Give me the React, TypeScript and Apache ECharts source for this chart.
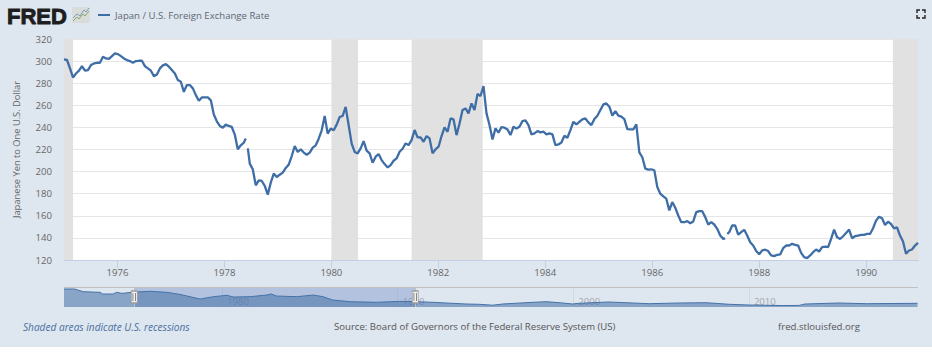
import React, { useEffect, useRef } from "react";
import * as echarts from "echarts";

const SERIES_NAME = "Japan / U.S. Foreign Exchange Rate";
const AXIS_TITLE = "Japanese Yen to One U.S. Dollar";
const TICK_YEARS = [1976, 1978, 1980, 1982, 1984, 1986, 1988, 1990];
const NAV_TICK_YEARS = [1980, 1990, 2000, 2010];
const RANGE_START = 1975;
const RANGE_END = 1990.97;
const NAV_RANGE_END = 1991;

// Readings of the line, left to right, about every three weeks (null = gap in the source line)
const rates: (number | null)[] = [
  301.5, 301, 293.4, 285.2, 288.8, 291.3, 295.5, 291.3, 291.9, 296.4, 297.9, 298.5, 298.5, 303.9, 302.4, 302.1,
  304.5, 306.9, 306.3, 304.5, 302.4, 300.9, 300, 298.5, 300, 300.3, 300.3, 295.5, 293.4, 291.3, 286.4, 287.9,
  293.4, 296.1, 297.3, 294.9, 291.9, 288.8, 282.8, 281.3, 272.2, 278.3, 278.3, 275.3, 269.2, 264.1, 267.1, 267.1, 267.1,
  264.5, 251.6, 245.5, 241.3, 239.8, 242.5, 241.3, 240.4, 233.5, 220.2, 223.8, 226.2, null, 207.2, 202.1, 187.6,
  192.1, 191.5, 187, 179.1, 190, 198.2, 195.1, 197.2, 199.1, 203.3, 206.3, 214.1, 223.2, 217.8, 220.2, 217.2, 215.3,
  217.2, 221.7, 223.8, 229.8, 237.4, 250.4, 234.4, 238.9, 237.4, 242.5, 249.4, 250.4, 258.5, 241.9, 225.3, 217.8,
  216.5, 221, 227.6, 218.9, 216.5, 208, 213.5, 215.9, 210.4, 206.8, 203.8, 205.9, 209.8, 211.9, 218, 220.7, 225.5,
  224, 228.5, 237.6, 231, 231, 227, 232.2, 230, 216.5, 220.2, 222.5, 232.2, 240, 236, 248.1, 247.2, 233, 243.6, 255.7,
  257.2, 252.7, 261.7, 255.7, 270.2, 268.4, 277.4, 252.7, 242.1, 229.1, 239.1, 235.2,
  240.3, 239.7, 238.2, 233.1, 240.6, 239.1, 240.6, 245.7, 246.3, 242.1, 233.7, 234.6, 236.7, 235.5, 236.1, 233.7,
  234.6, 233.7, 224, 224.6, 226.4, 232.5, 230.6, 237.6, 245.1, 242.7, 245.1, 247.2, 248.1, 244.5, 242.1, 247.5,
  250.6, 255.7, 260.8, 261.7, 258.7, 250.6, 254.8, 250.6, 249.7, 247.5, 238.5, 238.2, 238.2, 242.7, 217.4, 213,
  202.7, 201.8, 202.1, 201.2, 186.1, 180, 177.6, 175.5, 164.9, 172.4, 167.3, 160.3, 154.2, 154.2, 155.2, 153.3,
  154.9, 163.3, 164.2, 164.2, 158.8, 152.1, 154.2, 152.1, 148.2, 142.1, 139.1, null, 145.2, 151.2, 151.2, 143,
  145.2, 147.3, 142.1, 136.1, 133.1,
  128.1, 125.2, 128.7, 129.3, 128.1,
  124.1, 123.5, 124.7, 125, 130.7, 133.1, 133.1, 134.6, 133.7, 133.1, 126.5, 122.6, 121.7, 124.1, 127.1, 129.5,
  127.7, 131.6, 132.2, 131.6, 139.1, 147.5, 140.6, 139.1, 141.5, 144.5, 147.5, 139.7, 141.5, 142.1, 142.7, 142.7,
  143.6, 143.6, 148.7, 155.6, 159.2, 157.7, 151.7, 154.7, 152.6, 148.7, 149.6, 142.1, 136.7, 125.6, 128.6, 129.5,
  133.1, 135.5,
];
const rateYears = rates.map((_, i) => RANGE_START + (i * (RANGE_END - RANGE_START)) / (rates.length - 1));
// Values on either side of each gap in the line, in order of the nulls above
const gapBefore = [230, 139.5];
const gapAfter = [221, 143.5];

const recessions: [number, number][] = [
  [1975, 1975.17],
  [1980, 1980.5],
  [1981.5, 1982.83],
  [1990.5, 1990.97],
];

// Overview strip: the whole history of the series
const navYears = [
  1971, 1971.6, 1972.1, 1973.05, 1973.2, 1973.8, 1974, 1974.3, 1974.85, 1975.1, 1975.9, 1976.85, 1977.6, 1978.75,
  1979.5, 1980.27, 1980.65, 1981.6, 1982.55, 1982.8, 1983.1, 1984.25, 1985.2, 1985.75, 1986.3, 1987.3, 1988.8,
  1990.1, 1991.05, 1992, 1993.9, 1994.65, 1995.4, 1996, 1997.3, 1998.45, 1999.2, 1999.97, 2000.3, 2002, 2003,
  2004.3, 2006, 2007.55, 2008.9, 2010, 2011.9, 2012.85, 2013.2, 2015.1, 2016.7, 2019.6,
];
const navRates = [
  343, 343, 300, 290, 263, 263, 290, 273, 290, 295, 306, 290, 257, 183, 220, 242, 215, 220, 247, 263, 231, 220, 247,
  220, 167, 140, 130, 145, 140, 130, 103, 98, 84, 103, 124, 140, 124, 103, 114, 135, 124, 108, 119, 124, 98, 87, 78,
  80, 103, 119, 108, 114,
];

const FONT = "'Open Sans', sans-serif";
const LINE = "#3f6ea6";
const PAGE = "#dee6f0";
const AXIS_LINE = "#c0d0e0";

function linePoints() {
  const out: [number, number | null][] = [];
  let gap = 0;
  rates.forEach((v, i) => {
    if (v === null) {
      out.push([rateYears[i] - 0.02, gapBefore[gap]]);
      out.push([rateYears[i], null]);
      out.push([rateYears[i] + 0.02, gapAfter[gap]]);
      gap += 1;
    } else {
      out.push([rateYears[i], v]);
    }
  });
  return out;
}

export default function App() {
  const ref = useRef<HTMLDivElement>(null);
  useEffect(() => {
    const chart = echarts.init(ref.current!, null, { renderer: "svg" });
    const navMax = 375;
    const navMid = 215;
    const handle = (x: number) => [
      {
        coord: [x, navMid],
        symbol: "rect",
        symbolSize: [6, 12],
        itemStyle: { color: "#f2f2f2", borderColor: "#9a9a9a", borderWidth: 1 },
        label: { show: false },
      },
      {
        coord: [x, navMid],
        symbol: "path://M0 0H1V10H0Z M3 0H4V10H3Z",
        symbolSize: [3.5, 8],
        itemStyle: { color: "#777" },
        label: { show: false },
      },
    ];
    chart.setOption({
      animation: false,
      backgroundColor: PAGE,
      textStyle: { fontFamily: FONT },
      legend: {
        data: [SERIES_NAME],
        left: 92,
        top: 5,
        itemWidth: 12,
        itemHeight: 2,
        itemGap: 3,
        selectedMode: false,
        textStyle: { color: "#5f6670", fontSize: 9.6, fontFamily: FONT },
      },
      grid: [
        { left: 64, right: 14, top: 39, height: 221, show: true, backgroundColor: "#fff", borderWidth: 0 },
        { left: 64, right: 14, top: 287, height: 20, show: false },
      ],
      xAxis: [
        {
          type: "value",
          gridIndex: 0,
          min: RANGE_START,
          max: RANGE_END,
          splitLine: { show: false },
          axisLine: { show: true, onZero: false, lineStyle: { color: AXIS_LINE } },
          axisTick: { show: true, length: 8, lineStyle: { color: AXIS_LINE }, customValues: TICK_YEARS },
          axisLabel: {
            color: "#666",
            fontSize: 9.6,
            fontFamily: FONT,
            margin: 7,
            customValues: TICK_YEARS,
            formatter: (v: number) => String(v),
          },
        },
        {
          type: "value",
          gridIndex: 1,
          min: 1971,
          max: 2019.63,
          splitLine: { show: false },
          axisLine: { show: false, onZero: false },
          axisTick: { show: true, inside: true, length: 20, lineStyle: { color: "#d3d9e0" }, customValues: NAV_TICK_YEARS },
          axisLabel: {
            show: true,
            inside: true,
            color: "#a3a8ae",
            fontSize: 9.6,
            fontFamily: FONT,
            margin: 1,
            align: "left",
            padding: [0, 0, 0, 5],
            customValues: NAV_TICK_YEARS,
            formatter: (v: number) => String(v),
          },
        },
      ],
      yAxis: [
        {
          type: "value",
          gridIndex: 0,
          min: 120,
          max: 320,
          interval: 20,
          name: AXIS_TITLE,
          nameLocation: "middle",
          nameRotate: 90,
          nameGap: 43,
          nameTextStyle: { color: "#666", fontSize: 9.3, fontFamily: FONT },
          axisLine: { show: false },
          axisTick: { show: false },
          axisLabel: { color: "#666", fontSize: 9.6, fontFamily: FONT, margin: 12 },
          splitLine: { show: true, lineStyle: { color: "#e6e6e6", width: 1 } },
        },
        {
          type: "value",
          gridIndex: 1,
          min: 55,
          max: navMax,
          show: false,
          splitLine: { show: false },
        },
      ],
      series: [
        {
          name: SERIES_NAME,
          type: "line",
          xAxisIndex: 0,
          yAxisIndex: 0,
          data: linePoints(),
          symbol: "none",
          connectNulls: false,
          silent: true,
          lineStyle: { color: LINE, width: 2.3 },
          itemStyle: { color: LINE },
          z: 3,
          markArea: {
            silent: true,
            itemStyle: { color: "#e1e1e1" },
            data: recessions.map(([a, b]) => [{ xAxis: a }, { xAxis: b }]),
          },
        },
        {
          name: "Overview",
          type: "line",
          xAxisIndex: 1,
          yAxisIndex: 1,
          data: navYears.map((y, i) => [y, navRates[i]]),
          symbol: "none",
          silent: true,
          lineStyle: { color: "#4572a7", width: 1 },
          areaStyle: { color: "#4572a7", opacity: 0.56, origin: "start" },
          markArea: {
            silent: true,
            itemStyle: { color: "rgba(102,133,194,0.36)" },
            data: [[{ xAxis: RANGE_START }, { xAxis: NAV_RANGE_END }]],
          },
          markLine: {
            silent: true,
            symbol: "none",
            label: { show: false },
            lineStyle: { color: "#c0c0c0", width: 1, type: "solid" },
            data: [{ yAxis: navMax }, { xAxis: RANGE_START }, { xAxis: NAV_RANGE_END }],
          },
          markPoint: {
            silent: true,
            data: [...handle(RANGE_START), ...handle(NAV_RANGE_END)],
          },
        },
      ],
      graphic: [
        {
          type: "text",
          x: 7,
          y: 5,
          style: {
            text: "FRED",
            fill: "#1e1e1e",
            stroke: "#1e1e1e",
            lineWidth: 0.9,
            font: "bold 22px 'Liberation Sans', sans-serif",
          },
        },
        {
          type: "rect",
          shape: { x: 72, y: 7, width: 18, height: 16, r: 2 },
          style: { fill: "#d9dcd9" },
        },
        {
          type: "polyline",
          shape: { points: [[73, 21], [77, 17], [79, 19], [83, 14], [85, 16], [89, 11]] },
          style: { stroke: "#8aa86a", lineWidth: 1, fill: "none" },
        },
        {
          type: "polyline",
          shape: { points: [[73, 18], [77, 14], [80, 16], [84, 10], [86, 12], [89, 8]] },
          style: { stroke: "#7f9cbd", lineWidth: 1, fill: "none" },
        },
        ...[
          [[917, 13], [917, 10], [920, 10]],
          [[922, 10], [925, 10], [925, 13]],
          [[925, 15], [925, 18], [922, 18]],
          [[920, 18], [917, 18], [917, 15]],
        ].map((points) => ({
          type: "polyline",
          shape: { points },
          style: { stroke: "#222", lineWidth: 1.4, fill: "none" },
        })),
        {
          type: "text",
          x: 23,
          y: 326.5,
          style: {
            text: "Shaded areas indicate U.S. recessions",
            fill: "#4a6f9e",
            font: `italic 10.1px ${FONT}`,
            verticalAlign: "middle",
          },
        },
        {
          type: "text",
          x: 334,
          y: 326.5,
          style: {
            text: "Source: Board of Governors of the Federal Reserve System (US)",
            fill: "#555",
            font: `9.6px ${FONT}`,
            verticalAlign: "middle",
          },
        },
        {
          type: "text",
          x: 778,
          y: 326.5,
          style: { text: "fred.stlouisfed.org", fill: "#555", font: `9.6px ${FONT}`, verticalAlign: "middle" },
        },
      ],
    });
    return () => chart.dispose();
  }, []);
  return (
    <div style={{ position: "absolute", left: 0, top: 0, width: 932, height: 354, background: "#fff" }}>
      <div ref={ref} style={{ width: 932, height: 347 }} />
    </div>
  );
}
